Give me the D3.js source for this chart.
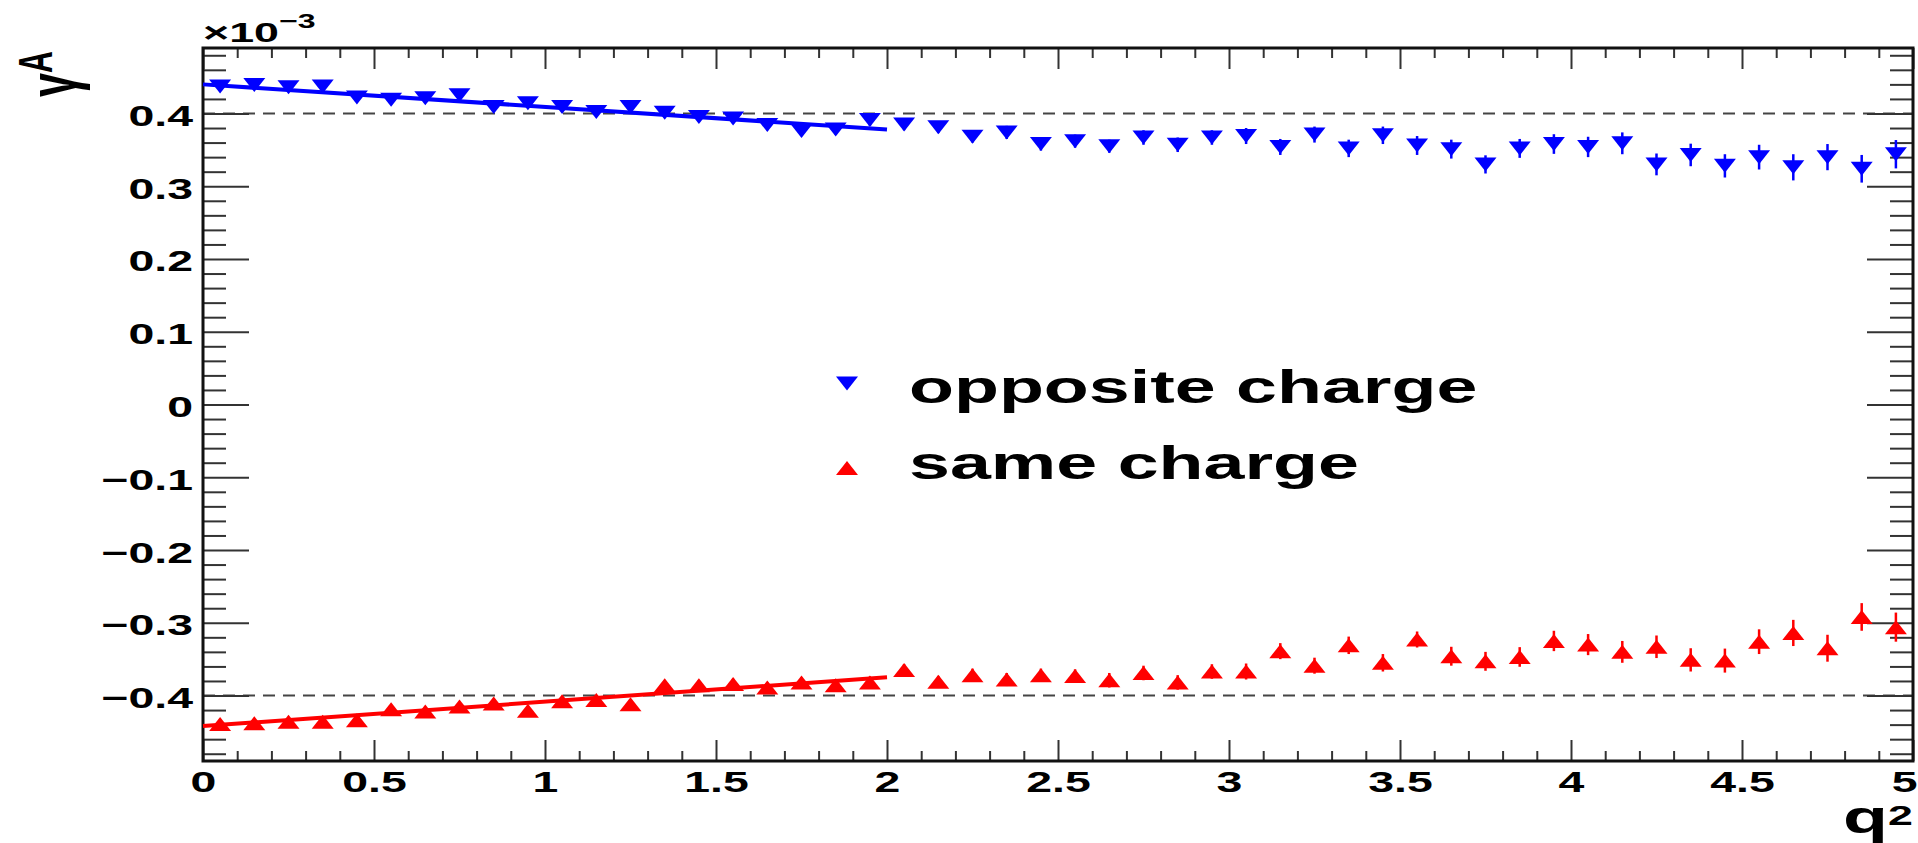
<!DOCTYPE html>
<html>
<head>
<meta charset="utf-8">
<script src="https://cdn.jsdelivr.net/npm/d3@7"></script>
<style>
  html, body { margin: 0; padding: 0; background: #fff; }
  svg { display: block; }
</style>
</head>
<body>
<svg id="chart" width="1918" height="843"></svg>
<script>
// ---- data (gamma^A in units of 1e-3) ----
const q2 = [0.05,0.15,0.25,0.35,0.45,0.55,0.65,0.75,0.85,0.95,
            1.05,1.15,1.25,1.35,1.45,1.55,1.65,1.75,1.85,1.95,
            2.05,2.15,2.25,2.35,2.45,2.55,2.65,2.75,2.85,2.95,
            3.05,3.15,3.25,3.35,3.45,3.55,3.65,3.75,3.85,3.95,
            4.05,4.15,4.25,4.35,4.45,4.55,4.65,4.75,4.85,4.95];
const oppositeVals = [0.437,0.439,0.436,0.437,0.422,0.419,0.421,0.425,0.409,0.414,
                      0.409,0.402,0.409,0.401,0.395,0.393,0.384,0.376,0.378,0.391,
                      0.385,0.381,0.368,0.374,0.358,0.362,0.355,0.367,0.357,0.367,
                      0.369,0.354,0.371,0.352,0.370,0.356,0.351,0.330,0.352,0.358,
                      0.354,0.359,0.330,0.343,0.328,0.340,0.326,0.340,0.324,0.344];
const oppositeErr = [0.004,0.004,0.004,0.004,0.005,0.005,0.005,0.005,0.005,0.005,
                     0.006,0.006,0.006,0.006,0.006,0.007,0.007,0.007,0.007,0.008,
                     0.008,0.008,0.008,0.009,0.009,0.009,0.009,0.010,0.010,0.010,
                     0.011,0.011,0.011,0.012,0.012,0.013,0.013,0.0125,0.013,0.0135,
                     0.014,0.015,0.015,0.0155,0.016,0.017,0.018,0.018,0.019,0.0195];
const sameVals = [-0.439,-0.438,-0.436,-0.436,-0.434,-0.419,-0.422,-0.415,-0.411,-0.421,
                  -0.408,-0.406,-0.412,-0.386,-0.386,-0.384,-0.389,-0.382,-0.386,-0.382,
                  -0.365,-0.381,-0.372,-0.378,-0.372,-0.373,-0.379,-0.369,-0.382,-0.367,
                  -0.367,-0.339,-0.359,-0.331,-0.355,-0.323,-0.346,-0.353,-0.347,-0.325,
                  -0.330,-0.340,-0.333,-0.351,-0.352,-0.326,-0.314,-0.335,-0.292,-0.306];
const sameErr = [0.004,0.004,0.004,0.004,0.005,0.005,0.005,0.005,0.005,0.006,
                 0.006,0.006,0.006,0.006,0.007,0.007,0.007,0.007,0.008,0.008,
                 0.008,0.008,0.009,0.009,0.009,0.009,0.010,0.010,0.010,0.010,
                 0.011,0.011,0.011,0.012,0.012,0.011,0.013,0.013,0.0135,0.014,
                 0.0145,0.015,0.0155,0.016,0.0165,0.017,0.018,0.0185,0.019,0.020];
const fitX = [0, 2];
const oppositeFit = [0.440, 0.378];
const sameFit = [-0.442, -0.375];
const refLines = [0.4, -0.4];
const xMajorTicks = [0,0.5,1,1.5,2,2.5,3,3.5,4,4.5,5];
const xTickLabels = ["0","0.5","1","1.5","2","2.5","3","3.5","4","4.5","5"];
const yMajorTicks = [-0.4,-0.3,-0.2,-0.1,0,0.1,0.2,0.3,0.4];
const yTickLabels = ["\u22120.4","\u22120.3","\u22120.2","\u22120.1","0","0.1","0.2","0.3","0.4"];
const legendLabels = ["opposite charge", "same charge"];

// ---- layout ----
const L = 203, R = 1913, T = 48, B = 761;
const SX = 1.6; // horizontal stretch of text
const FONT = "'Liberation Sans', Arial, Helvetica, sans-serif";

const svg = d3.select("#chart");
svg.append("rect").attr("width", 1918).attr("height", 843).attr("fill", "#fff");

const x = d3.scaleLinear().domain([0, 5]).range([L, R]);
const y = d3.scaleLinear().domain([-0.49, 0.49]).range([B, T]);

const xMinor = d3.range(1, 50).map(i => i / 10).filter(v => Math.abs(v * 2 - Math.round(v * 2)) > 1e-6);
const yMinor = d3.range(-24, 25).map(i => i / 50).filter(v => Math.abs(v * 10 - Math.round(v * 10)) > 1e-6);

// dashed reference lines
svg.selectAll("line.ref").data(refLines).enter().append("line")
  .attr("x1", x(0)).attr("x2", x(5))
  .attr("y1", d => y(d)).attr("y2", d => y(d))
  .attr("stroke", "#444").attr("stroke-width", 2).attr("stroke-dasharray", "12,8");

function styleAxis(g) {
  g.select(".domain").remove();
  g.selectAll(".tick line").attr("stroke", "#333").attr("stroke-width", 2);
}

// left axis (major with labels)
const gLeft = svg.append("g").attr("transform", `translate(${L},0)`)
  .call(d3.axisLeft(y).tickValues(yMajorTicks).tickSizeInner(-46).tickSizeOuter(0)
    .tickFormat((d, i) => yTickLabels[i]));
styleAxis(gLeft);
gLeft.selectAll(".tick text")
  .attr("x", -10 / SX).attr("dy", null).attr("y", 12)
  .attr("transform", `scale(${SX},1)`)
  .attr("font-family", FONT).attr("font-weight", "bold").attr("font-size", 29).attr("fill", "#000");
const gLeftMinor = svg.append("g").attr("transform", `translate(${L},0)`)
  .call(d3.axisLeft(y).tickValues(yMinor).tickSizeInner(-23).tickSizeOuter(0).tickFormat(""));
styleAxis(gLeftMinor);

// right axis
const gRight = svg.append("g").attr("transform", `translate(${R},0)`)
  .call(d3.axisRight(y).tickValues(yMajorTicks).tickSizeInner(-46).tickSizeOuter(0).tickFormat(""));
styleAxis(gRight);
const gRightMinor = svg.append("g").attr("transform", `translate(${R},0)`)
  .call(d3.axisRight(y).tickValues(yMinor).tickSizeInner(-23).tickSizeOuter(0).tickFormat(""));
styleAxis(gRightMinor);

// bottom axis
const gBottom = svg.append("g").attr("transform", `translate(0,${B})`)
  .call(d3.axisBottom(x).tickValues(xMajorTicks).tickSizeInner(-21).tickSizeOuter(0)
    .tickFormat((d, i) => xTickLabels[i]));
styleAxis(gBottom);
gBottom.selectAll(".tick text")
  .attr("y", 31).attr("dy", null).attr("x", 0)
  .attr("transform", `scale(${SX},1)`)
  .attr("font-family", FONT).attr("font-weight", "bold").attr("font-size", 29).attr("fill", "#000");
// keep the last label inside the page (reference shows it flush at the right edge)
gBottom.selectAll(".tick text").filter(d => d === 5)
  .attr("text-anchor", "end").attr("x", 4 / SX);
const gBottomMinor = svg.append("g").attr("transform", `translate(0,${B})`)
  .call(d3.axisBottom(x).tickValues(xMinor).tickSizeInner(-10).tickSizeOuter(0).tickFormat(""));
styleAxis(gBottomMinor);

// top axis
const gTop = svg.append("g").attr("transform", `translate(0,${T})`)
  .call(d3.axisTop(x).tickValues(xMajorTicks).tickSizeInner(-21).tickSizeOuter(0).tickFormat(""));
styleAxis(gTop);
const gTopMinor = svg.append("g").attr("transform", `translate(0,${T})`)
  .call(d3.axisTop(x).tickValues(xMinor).tickSizeInner(-10).tickSizeOuter(0).tickFormat(""));
styleAxis(gTopMinor);

// frame
svg.append("rect").attr("x", L).attr("y", T).attr("width", R - L).attr("height", B - T)
  .attr("fill", "none").attr("stroke", "#111").attr("stroke-width", 3);

// markers
const triDown = "M-11,-7L11,-7L0,7Z";
const triUp = "M-11,7L11,7L0,-7Z";

function drawSeries(vals, errs, color, shape) {
  const data = q2.map((q, i) => ({ q, v: vals[i], e: errs[i] }));
  const g = svg.append("g");
  g.selectAll("line.err").data(data).enter().append("line")
    .attr("x1", d => x(d.q)).attr("x2", d => x(d.q))
    .attr("y1", d => y(d.v - d.e)).attr("y2", d => y(d.v + d.e))
    .attr("stroke", color).attr("stroke-width", 2.5);
  g.selectAll("path.mk").data(data).enter().append("path")
    .attr("d", shape).attr("fill", color)
    .attr("transform", d => `translate(${x(d.q)},${y(d.v)})`);
}
drawSeries(oppositeVals, oppositeErr, "#0000ff", triDown);
drawSeries(sameVals, sameErr, "#ff0000", triUp);

// fit lines
const line = d3.line().x(d => x(d[0])).y(d => y(d[1]));
svg.append("path").attr("d", line(fitX.map((q, i) => [q, oppositeFit[i]])))
  .attr("fill", "none").attr("stroke", "#0000ff").attr("stroke-width", 4);
svg.append("path").attr("d", line(fitX.map((q, i) => [q, sameFit[i]])))
  .attr("fill", "none").attr("stroke", "#ff0000").attr("stroke-width", 4);

// legend
const legend = [
  { label: legendLabels[0], color: "#0000ff", shape: triDown, my: 383.5, ty: 403 },
  { label: legendLabels[1], color: "#ff0000", shape: triUp, my: 468, ty: 479 }
];
legend.forEach(l => {
  svg.append("path").attr("d", l.shape).attr("fill", l.color)
    .attr("transform", `translate(847,${l.my})`);
  svg.append("text").attr("transform", `translate(909,${l.ty}) scale(${SX},1)`)
    .attr("font-family", FONT).attr("font-weight", "bold").attr("font-size", 46)
    .attr("fill", "#000").text(l.label);
});

// exponent label
const expT = svg.append("text").attr("transform", `translate(203,42) scale(${SX},1)`)
  .attr("font-family", FONT).attr("font-weight", "bold").attr("font-size", 28).attr("fill", "#000");
expT.append("tspan").text("\u00d710");
expT.append("tspan").attr("dy", -14).attr("font-size", 20).text("\u22123");

// y title (rotated)
const yt = svg.append("text").attr("transform", `translate(76,97) rotate(-90) scale(1,${SX})`)
  .attr("font-family", FONT).attr("font-weight", "bold").attr("font-size", 43).attr("fill", "#000");
yt.append("tspan").text("\u03b3");
yt.append("tspan").attr("dy", -15).attr("font-size", 30).text("A");

// x title: "q" with superscript "2"
svg.append("text").attr("transform", `translate(1888,833) scale(${SX},1)`)
  .attr("font-family", FONT).attr("font-weight", "bold").attr("font-size", 46)
  .attr("text-anchor", "end").attr("fill", "#000").text("q");
svg.append("text").attr("transform", `translate(1913,825) scale(${SX},1)`)
  .attr("font-family", FONT).attr("font-weight", "bold").attr("font-size", 28)
  .attr("text-anchor", "end").attr("fill", "#000").text("2");
</script>
</body>
</html>
